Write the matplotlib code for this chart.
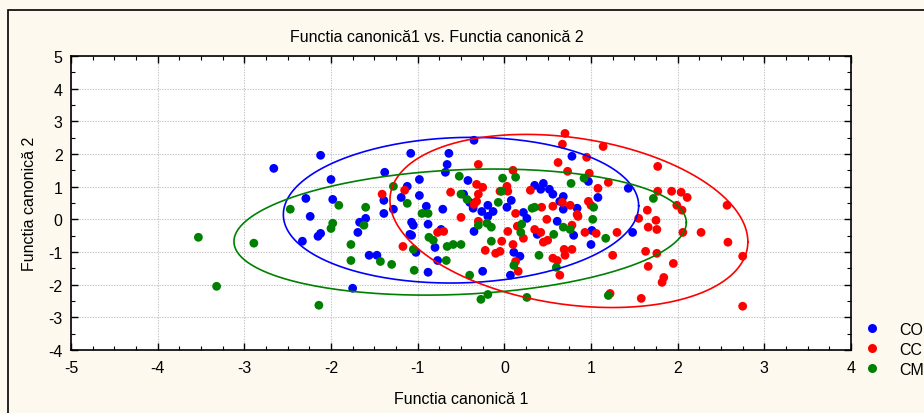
import numpy as np
import matplotlib
matplotlib.use("Agg")
import matplotlib.pyplot as plt
from matplotlib.ticker import MultipleLocator
from matplotlib.lines import Line2D
from matplotlib.patches import Rectangle

# group CO (blue)
co_x = [-2.66, -2.12, -2.00, -2.29, -1.98, -2.24, -1.60, -1.67, -2.12, -2.15, -2.33, -1.69, -1.56, -1.75,
        -0.35, -1.08, -0.64, -0.66, -1.38, -0.68, -0.98, -0.42, -1.12, -1.39, -1.19, -0.98, -0.90, -0.71,
        -1.39, -1.28, -0.47, -0.40, -0.36, -0.26, -0.19, -0.13, 0.03, 0.08, 0.22, 0.35, 0.45, 0.42, 0.52,
        0.56, 0.64, -0.19, 0.26,
        -1.07, -1.05, -0.88, -1.09, -1.07, -0.73, -0.80, -1.02, -1.47, -0.77, -0.88, -0.35, -0.25, 0.07,
        0.11, 0.18, 0.38, 0.61,
        0.78, 0.97, 1.43, 1.08, 0.68, 0.84, 0.68,
        1.01, 0.80, 1.00, 1.48]
co_y = [1.56, 1.96, 1.22, 0.64, 0.61, 0.09, 0.03, -0.09, -0.43, -0.52, -0.67, -0.40, -1.10, -2.11,
        2.42, 2.02, 2.02, 1.68, 1.44, 1.44, 1.22, 1.19, 1.01, 0.58, 0.67, 0.73, 0.40, 0.31,
        0.18, 0.31, 0.77, 0.52, 0.34, 0.24, 0.43, 0.24, 0.37, 0.58, 0.21, 1.04, 1.10, 0.92, 0.92,
        0.77, 0.55, 0.09, 0.03,
        -0.09, -0.18, -0.15, -0.46, -0.49, -0.31, -0.86, -1.01, -1.10, -1.26, -1.62, -0.37, -1.59, -1.71,
        -1.01, -1.13, -0.46, -0.06,
        1.93, 1.16, 0.95, 0.67, 0.70, 0.34, 0.31,
        -0.34, -0.49, -0.77, -0.40]

# group CC (red)
cc_x = [-1.41, -1.15, -0.62, -0.30, -0.32, -0.25, -0.30, -0.32, -0.35, -0.05, 0.03, 0.04, 0.10, 0.30,
        0.13, 0.43, 0.56, 0.62, -0.50, -0.30,
        -1.17, -0.77, -0.70, -0.22, -0.10, -0.05, -0.03, 0.04, 0.10, 0.13, 0.16, 0.22, 0.15, 0.35,
        0.42, 0.45, 0.50, 0.49, 0.56, 0.61,
        0.70, 0.67, 1.14, 0.95, 0.73, 0.98, 1.77, 1.20, 1.08, 1.77, 1.93, 2.04, 2.11, 2.57, 0.97,
        1.00, 0.76, 0.84, 1.99, 2.05, 1.65, 0.67,
        0.85, 0.93, 1.06, 1.30, 1.55, 1.75, 1.66, 1.76, 2.06, 2.27, 2.58, 2.75, 0.69, 0.78, 0.70,
        1.25, 1.63, 1.76, 1.95, 1.66, 1.84, 1.82, 1.22, 1.58, 2.75, 0.64, 0.78]
cc_y = [0.77, 0.89, 0.83, 1.68, 1.07, 0.98, 0.77, 0.55, 0.46, 0.86, 1.01, 0.86, 1.50, 0.89,
        0.18, 0.37, 0.40, 1.74, 0.06, -0.06,
        -0.83, -0.40, -0.37, -0.95, -1.04, -0.98, -0.67, -0.37, -0.77, -1.29, -1.59, -0.58, -0.21, -0.31,
        -0.40, -0.70, -0.64, 0.00, -1.19, -1.26,
        2.63, 2.30, 2.23, 1.90, 1.47, 1.41, 1.62, 1.13, 0.95, 0.86, 0.86, 0.83, 0.67, 0.43, 0.55,
        0.43, 0.43, 0.15, 0.43, 0.28, 0.28, 0.52,
        0.09, -0.40, -0.43, -0.40, 0.03, -0.03, -0.24, -0.31, -0.40, -0.40, -0.70, -1.13, -0.92, -0.92, -1.10,
        -1.10, -0.98, -1.04, -1.35, -1.44, -1.78, -1.93, -2.27, -2.42, -2.66, -1.71, -0.18]

# group CM (green)
cm_x = [-2.47, -1.91, -1.60, -3.53, -2.89, -3.32, -2.14, -1.98, -2.00, -1.62, -1.77, -1.77,
        -1.28, -1.12, -0.95, -0.88, -0.52, -0.50, -0.43, -0.07, -0.03, -0.02, 0.13, 0.32, 0.35,
        -1.43, -1.30, -1.04, -1.05, -0.87, -0.82, -0.67, -0.66, -0.59, -0.50, -0.30, -0.20, -0.15, -0.15,
        -0.40, 0.11, 0.20, 0.40, 0.60, 0.57, -0.19, -0.27, 0.26,
        0.77, 0.92, 1.72, 1.03, 1.02, 0.68, 0.76, 1.17, 1.20, 0.19]
cm_y = [0.31, 0.43, 0.37, -0.55, -0.73, -2.05, -2.63, -0.12, -0.28, -0.18, -0.77, -1.26,
        1.01, 0.49, 0.18, 0.18, 1.32, 0.77, 0.61, 0.52, 0.86, 1.26, 1.29, 0.34, 0.37,
        -1.29, -1.38, -1.56, -0.92, -0.55, -0.64, -1.26, -0.83, -0.77, -0.77, -0.18, -0.12, -0.24, -0.67,
        -1.71, -1.41, -0.15, -1.10, -1.47, -0.46, -2.30, -2.45, -2.39,
        1.10, 1.26, 0.64, 0.37, 0.00, -0.24, -0.31, -0.58, -2.33, -0.40]

# ellipses: centre x, centre y, half width, half height, tilt factor
co_ell = [-0.50, 0.28, 2.05, 2.23, 0.06]
cc_ell = [0.745, -0.05, 2.065, 2.65, -0.24]
cm_ell = [-0.51, -0.39, 2.61, 1.93, 0.15]

groups = ["CO", "CC", "CM"]
colors = ["#0000ff", "#ff0000", "#008000"]

plt.rcParams['font.family'] = ['Liberation Sans', 'DejaVu Sans']
plt.rcParams['axes.unicode_minus'] = False

fig = plt.figure(figsize=(9.24, 4.14), dpi=100)
fig.patch.set_facecolor("#fdf9ef")
# outer frame
fig.add_artist(Rectangle((8 / 924, -0.1), 1.2, 1 - 11 / 414 + 0.1, transform=fig.transFigure,
                         fill=False, edgecolor="black", linewidth=1.2))

ax = fig.add_axes([71 / 924, 1 - 351 / 414, 780 / 924, 294 / 414])
ax.set_facecolor("white")

t = np.linspace(0, 2 * np.pi, 300)
for (gx, gy, c, g) in zip([co_x, cc_x, cm_x], [co_y, cc_y, cm_y], colors, groups):
    ax.scatter(gx, gy, s=40, color=c, edgecolors="none", zorder=3, label=g)
for ell, c in zip([co_ell, cc_ell, cm_ell], colors):
    cx, cy, a, b, r = ell
    ex = cx + a * np.cos(t)
    ey = cy + b * (r * np.cos(t) + np.sqrt(1 - r * r) * np.sin(t))
    ax.plot(ex, ey, color=c, linewidth=1.2, zorder=4)

ax.set_xlim(-5, 4)
ax.set_ylim(-4, 5)
ax.xaxis.set_major_locator(MultipleLocator(1))
ax.xaxis.set_minor_locator(MultipleLocator(0.25))
ax.yaxis.set_major_locator(MultipleLocator(1))
ax.yaxis.set_minor_locator(MultipleLocator(0.5))
ax.tick_params(which="both", direction="in", top=True, right=True, labelsize=11.5)
ax.tick_params(which="major", length=5, width=1)
ax.tick_params(which="minor", length=3, width=0.8)
ax.tick_params(axis="x", pad=7)
ax.tick_params(axis="y", pad=6)
ax.grid(True, which="major", color="#c4c4c4", linestyle=(0, (1.2, 1.2)), linewidth=0.8)
ax.set_axisbelow(True)
for sp in ax.spines.values():
    sp.set_linewidth(1.2)

fig.text(437 / 924, 1 - 38 / 414, "Functia canonică1 vs. Functia canonică 2",
         ha="center", va="center", fontsize=11.5)
fig.text(461 / 924, 1 - 400 / 414, "Functia canonică 1", ha="center", va="center", fontsize=11.5)
fig.text(30 / 924, 1 - 204 / 414, "Functia canonică 2", ha="center", va="center",
         rotation=90, fontsize=11.5)

handles = [Line2D([], [], linestyle="none", marker="o", markersize=6.5, color=c,
                  markeredgewidth=0) for c in colors]
fig.legend(handles, groups, loc="upper left", bbox_to_anchor=(864 / 924, 1 - 323 / 414),
           frameon=False, fontsize=11.5, handlelength=1.0, handletextpad=1.2,
           borderpad=0, borderaxespad=0, labelspacing=0.3)

fig.savefig("out.png", dpi=100, facecolor=fig.get_facecolor())
